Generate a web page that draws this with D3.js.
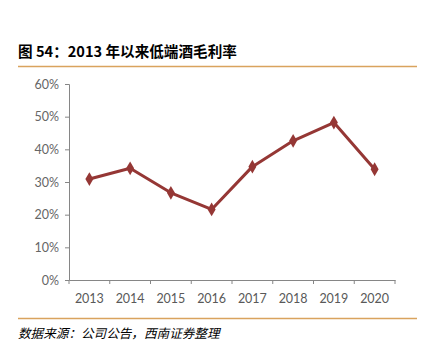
<!DOCTYPE html>
<html><head><meta charset="utf-8">
<script src="https://cdn.jsdelivr.net/npm/d3@7"></script>
<style>body{margin:0;background:#fff;} svg{display:block;}</style>
</head><body>
<script>
const years = ["2013","2014","2015","2016","2017","2018","2019","2020"];
const margin = [30.9, 34.2, 26.7, 21.6, 34.7, 42.6, 48.2, 33.9];
const yTicks = [0, 10, 20, 30, 40, 50, 60];

const W = 427, H = 356;
const svg = d3.select("body").append("svg").attr("width", W).attr("height", H);

svg.append("text").attr("x", 18).attr("y", 57)
  .attr("font-family", "'Noto Sans CJK SC', sans-serif").attr("font-weight", "bold")
  .attr("font-size", 14.6).attr("fill", "#000").text("图 54：2013 年以来低端酒毛利率");
svg.append("line").attr("x1", 18).attr("x2", 417).attr("y1", 66.5).attr("y2", 66.5)
  .attr("stroke", "#d9a35e").attr("stroke-width", 1.5);
svg.append("line").attr("x1", 18).attr("x2", 417).attr("y1", 318.5).attr("y2", 318.5)
  .attr("stroke", "#d9a35e").attr("stroke-width", 1.5);
svg.append("text").attr("x", 18).attr("y", 338)
  .attr("font-family", "'Noto Sans CJK SC', sans-serif").attr("font-style", "italic")
  .attr("font-size", 12.6).attr("fill", "#000").text("数据来源：公司公告，西南证券整理");

const x = d3.scaleBand().domain(years).range([69, 395]);
const y = d3.scaleLinear().domain([0, 60]).range([280, 84]);

const gy = svg.append("g").attr("transform", "translate(69,0)")
  .call(d3.axisLeft(y).tickValues(yTicks).tickFormat(d => d + "%").tickSize(4).tickPadding(6));
const gx = svg.append("g").attr("transform", "translate(0,280)")
  .call(d3.axisBottom(x).tickValues([]).tickSize(0));
const bounds = years.map(d => x(d)).concat([x.range()[1]]);
gx.selectAll(".bt").data(bounds).enter().append("line")
  .attr("x1", d => d).attr("x2", d => d).attr("y1", 0).attr("y2", 4).attr("stroke", "#868686");
gx.selectAll(".lbl").data(years).enter().append("text")
  .attr("x", d => x(d) + x.bandwidth()/2).attr("y", 23).attr("text-anchor", "middle")
  .attr("font-family", "Lato, 'Open Sans', sans-serif").attr("font-size", 12.5).attr("fill", "#595959").text(d => d);

[gx, gy].forEach(g => {
  g.select(".domain").attr("stroke", "#868686");
  g.selectAll(".tick line").attr("stroke", "#868686");
  g.selectAll(".tick text").attr("font-family", "Lato, 'Open Sans', sans-serif").attr("font-size", 12.5).attr("fill", "#666");
});

const line = d3.line().x((d, i) => x(years[i]) + x.bandwidth()/2).y(d => y(d));
svg.append("path").datum(margin).attr("d", line).attr("fill", "none")
  .attr("stroke", "#953735").attr("stroke-width", 3).attr("stroke-linejoin", "round");
svg.selectAll(".pt").data(margin).enter().append("path")
  .attr("d", d3.symbol().type(d3.symbolDiamond).size(55))
  .attr("transform", (d, i) => `translate(${x(years[i]) + x.bandwidth()/2},${y(d)})`)
  .attr("fill", "#953735");
</script>
</body></html>
